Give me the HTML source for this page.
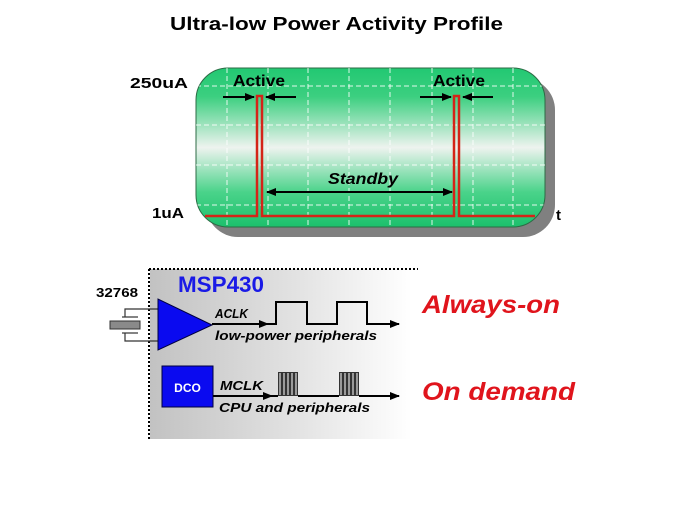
<!DOCTYPE html>
<html><head><meta charset="utf-8"><style>
html,body{margin:0;padding:0;background:#fff;}
svg{display:block;}
text{font-family:"Liberation Sans",Arial,sans-serif;}
</style></head><body>
<svg width="674" height="506" viewBox="0 0 674 506" xmlns="http://www.w3.org/2000/svg">
<defs>
<linearGradient id="gg" x1="0" y1="0" x2="0" y2="1">
<stop offset="0" stop-color="#22c872"/>
<stop offset="0.18" stop-color="#3ccf80"/>
<stop offset="0.5" stop-color="#eef3ef"/>
<stop offset="0.78" stop-color="#4ad38a"/>
<stop offset="1" stop-color="#1cc06c"/>
</linearGradient>
<linearGradient id="gray" x1="0" y1="0" x2="1" y2="0">
<stop offset="0" stop-color="#c2c2c2"/>
<stop offset="0.55" stop-color="#e2e2e2"/>
<stop offset="1" stop-color="#ffffff"/>
</linearGradient>
<clipPath id="bx"><rect x="196" y="68" width="349" height="159" rx="32"/></clipPath>
<marker id="ah" markerWidth="10" markerHeight="8" refX="9" refY="4" orient="auto" markerUnits="userSpaceOnUse">
<path d="M0,0 L10,4 L0,8 z" fill="#000"/>
</marker>
</defs>

<!-- Title -->
<text x="170" y="30" font-size="18" font-weight="bold" textLength="333" lengthAdjust="spacingAndGlyphs">Ultra-low Power Activity Profile</text>

<!-- Green box -->
<rect x="206" y="78" width="349" height="159" rx="32" fill="#808080"/>
<rect x="196" y="68" width="349" height="159" rx="32" fill="url(#gg)" stroke="#2d6b45" stroke-width="1"/>
<g clip-path="url(#bx)" stroke="#ffffff" stroke-opacity="0.85" stroke-width="1" stroke-dasharray="5,3">
<line x1="227" y1="68" x2="227" y2="227"/>
<line x1="268" y1="68" x2="268" y2="227"/>
<line x1="308" y1="68" x2="308" y2="227"/>
<line x1="349" y1="68" x2="349" y2="227"/>
<line x1="390" y1="68" x2="390" y2="227"/>
<line x1="432" y1="68" x2="432" y2="227"/>
<line x1="473" y1="68" x2="473" y2="227"/>
<line x1="513" y1="68" x2="513" y2="227"/>
<line x1="196" y1="86" x2="545" y2="86"/>
<line x1="196" y1="125" x2="545" y2="125"/>
<line x1="196" y1="165" x2="545" y2="165"/>
<line x1="196" y1="205" x2="545" y2="205"/>
</g>
<!-- red signal -->
<path d="M205,216 L257,216 L257,96 L262,96 L262,216 L454,216 L454,96 L459,96 L459,216 L535,216" fill="none" stroke="#d42418" stroke-width="2.5"/>

<!-- Labels -->
<text x="130" y="88" font-size="15" font-weight="bold" textLength="58" lengthAdjust="spacingAndGlyphs">250uA</text>
<text x="152" y="218" font-size="15" font-weight="bold" textLength="32" lengthAdjust="spacingAndGlyphs">1uA</text>
<text x="556" y="220" font-size="15" font-weight="bold">t</text>
<text x="233" y="86" font-size="16" font-weight="bold" textLength="52" lengthAdjust="spacingAndGlyphs">Active</text>
<text x="433" y="86" font-size="16" font-weight="bold" textLength="52" lengthAdjust="spacingAndGlyphs">Active</text>
<text x="328" y="184" font-size="16" font-weight="bold" font-style="italic" textLength="70" lengthAdjust="spacingAndGlyphs">Standby</text>

<!-- arrows -->
<g stroke="#000" stroke-width="2">
<line x1="223" y1="97" x2="254" y2="97" marker-end="url(#ah)"/>
<line x1="296" y1="97" x2="266" y2="97" marker-end="url(#ah)"/>
<line x1="420" y1="97" x2="451" y2="97" marker-end="url(#ah)"/>
<line x1="493" y1="97" x2="463" y2="97" marker-end="url(#ah)"/>
<line x1="290" y1="192" x2="452" y2="192" marker-end="url(#ah)"/>
<line x1="300" y1="192" x2="267" y2="192" marker-end="url(#ah)"/>
</g>

<!-- Bottom panel -->
<rect x="150" y="269" width="262" height="170" fill="url(#gray)"/>
<line x1="149" y1="269" x2="418" y2="269" stroke="#000" stroke-width="2" stroke-dasharray="2,2"/>
<line x1="149" y1="269" x2="149" y2="441" stroke="#000" stroke-width="2" stroke-dasharray="2,2"/>

<text x="178" y="292" font-size="22" font-weight="bold" fill="#1a1ae6" textLength="86" lengthAdjust="spacingAndGlyphs">MSP430</text>
<text x="96" y="297" font-size="13" font-weight="bold" textLength="42" lengthAdjust="spacingAndGlyphs">32768</text>

<!-- crystal -->
<g stroke="#333" stroke-width="1.2" fill="none">
<path d="M125,317 L125,309 L158,309"/>
<path d="M125,333 L125,341 L158,341"/>
<line x1="122" y1="317" x2="138" y2="317"/>
<line x1="122" y1="333" x2="138" y2="333"/>
</g>
<rect x="110" y="321" width="30" height="8" fill="#8a8a8a" stroke="#333" stroke-width="1"/>

<!-- triangle -->
<polygon points="158,299 158,350 212,325" fill="#0a0af0" stroke="#000040" stroke-width="1"/>

<!-- ACLK -->
<g stroke="#000" stroke-width="2" fill="none">
<line x1="212" y1="324" x2="268" y2="324" marker-end="url(#ah)"/>
<path d="M266,324 L276,324 L276,302 L307,302 L307,324 L337,324 L337,302 L367,302 L367,324 L396,324"/>
<line x1="380" y1="324" x2="399" y2="324" marker-end="url(#ah)"/>
</g>
<text x="215" y="318" font-size="12.5" font-weight="bold" font-style="italic" textLength="33" lengthAdjust="spacingAndGlyphs">ACLK</text>
<text x="215" y="340" font-size="12.5" font-weight="bold" font-style="italic" textLength="162" lengthAdjust="spacingAndGlyphs">low-power peripherals</text>

<!-- DCO -->
<rect x="162" y="366" width="51" height="41" fill="#0a0af0" stroke="#000040" stroke-width="1"/>
<text x="187.5" y="392" font-size="12" font-weight="bold" fill="#fff" text-anchor="middle">DCO</text>

<!-- MCLK -->
<g stroke="#000" stroke-width="2" fill="none">
<line x1="213" y1="396" x2="272" y2="396" marker-end="url(#ah)"/>
<line x1="270" y1="396" x2="278" y2="396"/>
<line x1="298" y1="396" x2="339" y2="396"/>
<line x1="359" y1="396" x2="399" y2="396" marker-end="url(#ah)"/>
</g>
<g fill="#9a9a9a" stroke="#333" stroke-width="1">
<rect x="278.5" y="372.5" width="3" height="23"/>
<rect x="282.5" y="372.5" width="3" height="23"/>
<rect x="286.5" y="372.5" width="3" height="23"/>
<rect x="290.5" y="372.5" width="3" height="23"/>
<rect x="294.5" y="372.5" width="3" height="23"/>
<rect x="339.5" y="372.5" width="3" height="23"/>
<rect x="343.5" y="372.5" width="3" height="23"/>
<rect x="347.5" y="372.5" width="3" height="23"/>
<rect x="351.5" y="372.5" width="3" height="23"/>
<rect x="355.5" y="372.5" width="3" height="23"/>
</g>
<text x="220" y="390" font-size="12.5" font-weight="bold" font-style="italic" textLength="43" lengthAdjust="spacingAndGlyphs">MCLK</text>
<text x="219" y="412" font-size="12.5" font-weight="bold" font-style="italic" textLength="151" lengthAdjust="spacingAndGlyphs">CPU and peripherals</text>

<!-- Right labels -->
<text x="422" y="313" font-size="25" font-weight="bold" font-style="italic" fill="#e0141c" textLength="138" lengthAdjust="spacingAndGlyphs">Always-on</text>
<text x="422" y="400" font-size="25" font-weight="bold" font-style="italic" fill="#e0141c" textLength="153" lengthAdjust="spacingAndGlyphs">On demand</text>
</svg>
</body></html>
